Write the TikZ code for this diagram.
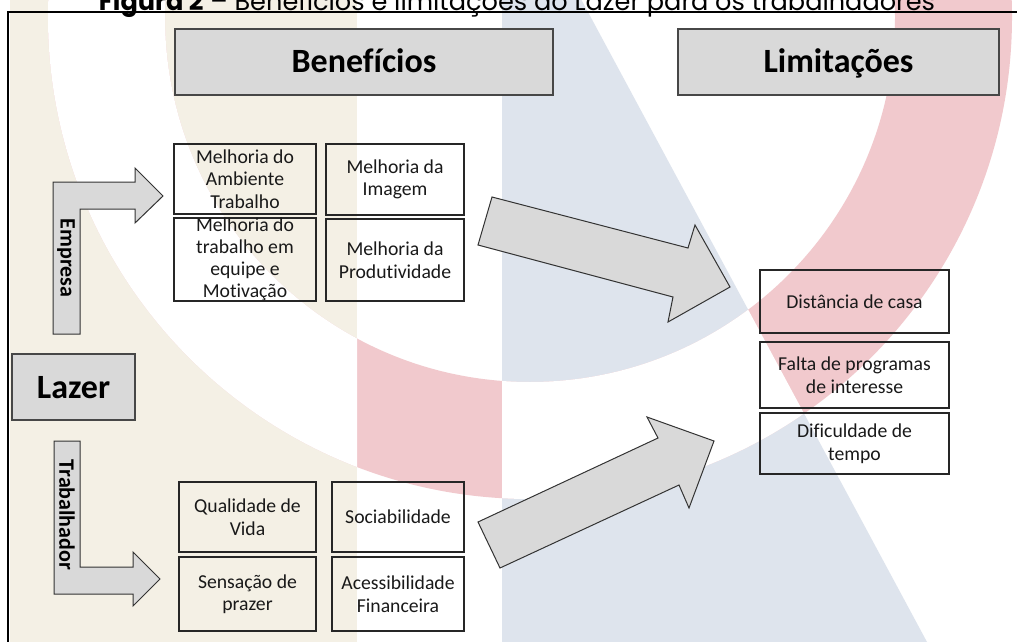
\documentclass[tikz,border=0pt]{standalone}
\usepackage{fontspec}
\setmainfont{Carlito}[Ligatures=NoCommon]
\newfontfamily\titlefont{Poppins}
\definecolor{bgbeige}{RGB}{244,240,229}
\definecolor{bgblue}{RGB}{222,228,237}
\definecolor{bgred}{RGB}{241,201,205}
\definecolor{boxgray}{RGB}{217,217,217}
\tikzset{
  ibox/.style={draw=black!85, line width=1.2pt, align=center, text=black!90,
    font=\fontsize{19.7}{22.5}\selectfont, inner sep=0pt},
  gbox/.style={draw=black!72, fill=boxgray, line width=1.3pt, align=center,
    font=\bfseries\fontsize{34}{34}\selectfont, inner sep=0pt,
    text height=24pt, text depth=2pt},
  barrow/.style={draw=black!80, fill=boxgray, line width=1pt, line join=miter},
  vlabel/.style={rotate=-90, font=\bfseries\fontsize{22}{22}\selectfont, inner sep=0pt}
}
\begin{document}
\begin{tikzpicture}[x=1pt,y=-1pt]
\useasboundingbox (0,0) rectangle (1017,642);
% background watermark
\fill[white] (0,0) rectangle (1017,642);
\fill[bgbeige] (10,0) rectangle (357,642);
\fill[bgblue] (502,0) -- (581.5,0) -- (927,642) -- (502,642) -- cycle;
\begin{scope}
  \clip (0,0) rectangle (1017,642);
  \fill[bgred, even odd rule] (530,17) circle (482) (530,17) circle (365);
\end{scope}
\begin{scope}
  \clip (10,0) rectangle (357,642);
  \fill[white, even odd rule] (530,17) circle (482) (530,17) circle (365);
\end{scope}
\begin{scope}
  \clip (502,0) -- (581.5,0) -- (927,642) -- (502,642) -- cycle;
  \fill[white, even odd rule] (530,17) circle (482) (530,17) circle (365);
\end{scope}
% title and frame
\node[anchor=base, inner sep=0pt, font=\titlefont\fontsize{25.6}{25.6}\selectfont] (title) at (517,11)
  {\textbf{Figura 2} – Benefícios e limitações do Lazer para os trabalhadores};
\draw[line width=1.7pt] (7,12.3) -- (1017,12.3);
\draw[line width=2.4pt] (8,12) -- (8,642);
% header boxes
\node[gbox, minimum width=378pt, minimum height=66pt] (ben) at (364,62) {Benefícios};
\node[gbox, minimum width=321pt, minimum height=66pt] (lim) at (838.5,62) {Limitações};
\node[gbox, minimum width=123pt, minimum height=66pt] (lazer) at (73.5,387) {Lazer};
% bent arrows
\draw[barrow] (53,334) -- (53,182) -- (135,182) -- (135,168) -- (163,196) -- (135,223) -- (135,209) -- (80,209) -- (80,334) -- cycle;
\node[vlabel] (emp) at (66,258) {Empresa};
\draw[barrow] (54,441) -- (80,441) -- (80,567) -- (133,567) -- (133,552) -- (160,579) -- (133,606) -- (133,594) -- (54,594) -- cycle;
\node[vlabel] (trab) at (67,515) {Trabalhador};
% benefit boxes
\node[ibox, minimum width=142pt, minimum height=70pt] (m1) at (245,179) {Melhoria do\\Ambiente\\Trabalho};
\node[ibox, minimum width=138pt, minimum height=71pt] (m2) at (395,179.5) {Melhoria da\\Imagem};
\node[ibox, minimum width=142pt, minimum height=83pt] (m3) at (245,259.5) {};
\node[align=center, inner sep=0pt, text=black!90, font=\fontsize{19.7}{22}\selectfont] (m3t) at (m3.center) {Melhoria do\\trabalho em\\equipe e\\Motivação};
\node[ibox, minimum width=138pt, minimum height=82pt] (m4) at (395,260) {Melhoria da\\Produtividade};
\node[ibox, minimum width=137pt, minimum height=70pt] (q) at (247.5,517) {Qualidade de\\Vida};
\node[ibox, minimum width=132pt, minimum height=70pt] (s) at (398,517) {Sociabilidade};
\node[ibox, minimum width=137pt, minimum height=74pt] (p) at (247.5,594) {Sensação de\\prazer};
\node[ibox, minimum width=132pt, minimum height=74pt] (a) at (398,594) {Acessibilidade\\Financeira};
% limitation boxes
\node[ibox, minimum width=189pt, minimum height=63pt] (d) at (854.5,301.5) {Distância de casa};
\node[ibox, minimum width=189pt, minimum height=66pt] (f) at (854.5,375) {Falta de programas\\de interesse};
\node[ibox, minimum width=189pt, minimum height=61pt] (t) at (854.5,443.5) {Dificuldade de\\tempo};
% block arrows
\draw[barrow] (492,197) -- (688,248) -- (695,225) -- (730,287) -- (668,322) -- (673,297) -- (478,245) -- cycle;
\draw[barrow] (478,522) -- (658,438) -- (647,417) -- (714,441) -- (689,508) -- (679,485) -- (500,568) -- cycle;
\end{tikzpicture}
\end{document}
